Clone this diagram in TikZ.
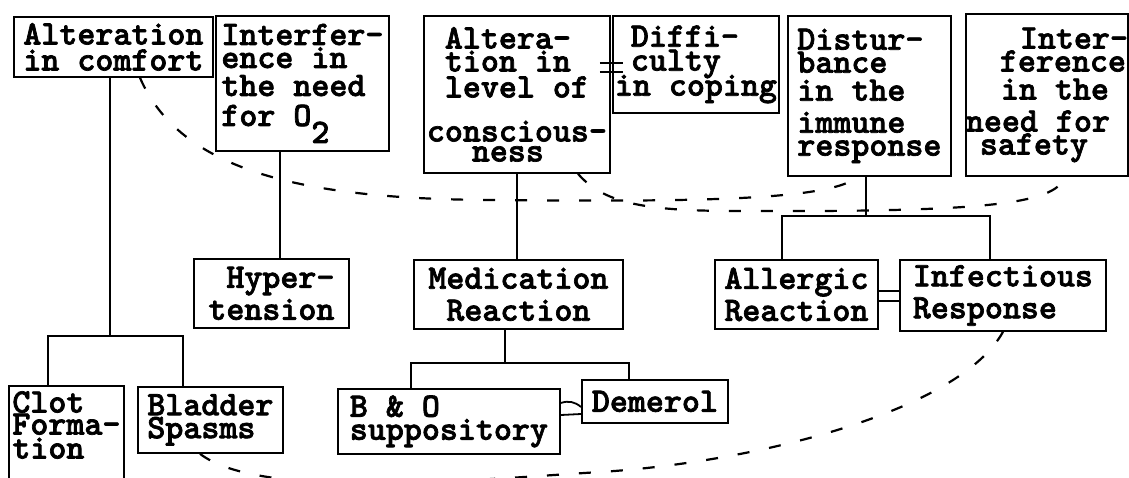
\documentclass[tikz,border=0pt]{standalone}
\usepackage{fontspec}
\newfontfamily\typefont{lmmonolt10-bold}[Extension=.otf, FakeBold=2]
\tikzset{every picture/.style={x=1pt,y=-1pt,line width=1.8pt},
  box/.style={draw, rectangle, anchor=north west, inner sep=0pt, align=left,
    font={\typefont\fontsize{34.3}{27}\selectfont\lineskiplimit=-100pt}},
  link/.style={dash pattern=on 12pt off 20pt, line width=2.2pt}}
\begin{document}
\begin{tikzpicture}
        \useasboundingbox (0,0) rectangle (1129,477);
        \node[box, minimum width=199, minimum height=60] (comfort) at (13,16) {Alteration\\[-1pt]in comfort};
        \node[box, minimum width=173, minimum height=135] (oxygen) at (215,15) {Interfer-\\[-4pt]ence in\\[1pt]the need\\[3pt]for O\raisebox{-17pt}{2}};
        \node[box, minimum width=186, minimum height=157] (conscious) at (423,15) {\hspace*{18pt}Altera-\\[-4pt]\hspace*{18pt}tion in\\[-1pt]\hspace*{18pt}level of\\[17pt]conscious-\\[-7pt]\hspace*{45pt}ness};
        \node[box, minimum width=166, minimum height=97] (coping) at (612,15) {\hspace*{16pt}Diffi-\\[-3pt]\hspace*{16pt}culty\\[-2pt]in coping};
        \node[box, minimum width=163, minimum height=160] (immune) at (787,15) {Distur-\\[-4pt]bance\\[1pt]in the\\[5pt]immune\\[-4pt]response};
        \node[box, minimum width=162, minimum height=162] (safety) at (965,13) {\hspace*{54pt}Inter-\\[-4pt]\hspace*{34pt}ference\\[1pt]\hspace*{35pt}in the\\[5pt]need for\\[-4pt]\hspace*{14pt}safety};
        \node[box, align=right, minimum width=155, minimum height=69] (hyper) at (193,258) {Hyper-\\[5pt]tension};
        \node[box, align=center, minimum width=209, minimum height=69] (medic) at (413,259) {Medication\\[5pt]Reaction};
        \node[box, minimum width=163, minimum height=69] (allergic) at (714,259) {Allergic\\[5pt]Reaction};
        \node[box, minimum width=206, minimum height=71] (infect) at (899,259) {Infectious\\[5pt]Response};
        \node[box, minimum width=115, minimum height=100] (clot) at (8,385) {Clot\\[-5pt]Forma-\\[-3pt]tion\\[-5pt]\mbox{}};
        \node[box, minimum width=145, minimum height=66] (bladder) at (137,386) {Bladder\\[-4pt]Spasms};
        \node[box, minimum width=222, minimum height=65] (bando) at (337,388) {B \& O\\[-4pt]suppository};
        \node[box, minimum width=146, minimum height=43] (demerol) at (581,379) {Demerol};

        \coordinate (comfortfork) at (110,336);
        \coordinate (oxygendrop) at (280,0);
        \coordinate (medicfork) at (505,363);
        \coordinate (immunefork) at (866,216);

        \draw (comfort.south -| comfortfork) -- (comfortfork);
        \draw ([xshift=40pt]clot.north west) |- (comfortfork) -| ([xshift=46pt]bladder.north west);
        \draw (oxygen.south -| oxygendrop) -- (hyper.north -| oxygendrop);
        \draw (conscious.south) -- (conscious.south |- medic.north);
        \draw (medic.south -| medicfork) -- (medicfork);
        \draw ([xshift=74pt]bando.north west) |- (medicfork) -| ([xshift=48pt]demerol.north west);
        \draw (immune.south -| immunefork) -- (immunefork);
        \draw ([xshift=68pt]allergic.north west) |- (immunefork) -| ([xshift=91pt]infect.north west);

        \foreach \dy in {32,42}
        \draw ([yshift=-\dy pt]allergic.north east) -- ([yshift=-\dy pt]infect.north west);
        \foreach \dy in {48,57}
        \draw ([xshift=-11pt,yshift=-\dy pt]conscious.north east) -- ++(23,0);
        \draw ([yshift=-15pt]bando.north east) to[bend left=30] ([yshift=-28pt]demerol.north west);
        \draw ([yshift=-27pt]bando.north east) -- ([yshift=-35pt]demerol.north west);

        \draw[link] ([xshift=127pt]comfort.south west) .. controls (180,170) and (300,200) .. (500,200)
          .. controls (700,202) and (830,200) .. ([xshift=71pt]immune.south west);
        \draw[link] ([xshift=155pt]conscious.south west) .. controls (605,205) and (650,211) .. (740,211)
          .. controls (980,212) and (1055,205) .. ([xshift=100pt]safety.south west);
        \draw[link] ([xshift=63pt]bladder.south west) .. controls (260,500) and (470,480) .. (600,472)
          .. controls (760,462) and (960,410) .. ([xshift=104pt]infect.south west);
      \end{tikzpicture}
\end{document}
